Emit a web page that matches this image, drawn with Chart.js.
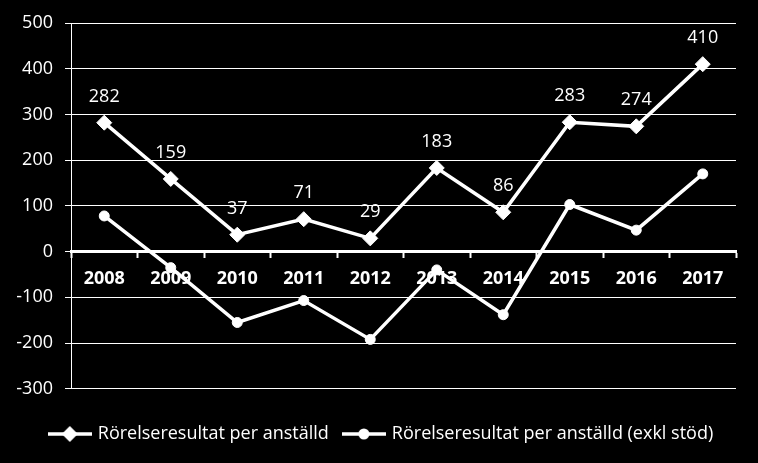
<!DOCTYPE html>
<html>
<head>
<meta charset="utf-8">
<script src="https://cdn.jsdelivr.net/npm/chart.js@4"></script>
<style>
html,body{margin:0;padding:0;background:#000;}
#wrap{width:758px;height:463px;}
</style>
</head>
<body>
<div id="wrap"><canvas id="c" width="758" height="463"></canvas></div>
<script>
const categories = ['2008','2009','2010','2011','2012','2013','2014','2015','2016','2017'];
const seriesNames = ['Rörelseresultat per anställd', 'Rörelseresultat per anställd (exkl stöd)'];
const resultat = [282, 159, 37, 71, 29, 183, 86, 283, 274, 410];
const resultatExklStod = [78, -35, -155, -107, -192, -40, -138, 103, 47, 170];
const yTicks = [500, 400, 300, 200, 100, 0, -100, -200, -300];

const FONT = "'Open Sans', sans-serif";

function legendImage(kind) {
  const cv = document.createElement('canvas');
  cv.width = 44; cv.height = 18;
  const g = cv.getContext('2d');
  g.strokeStyle = '#fff'; g.fillStyle = '#fff'; g.lineWidth = 3.5;
  g.beginPath(); g.moveTo(0, 9); g.lineTo(44, 9); g.stroke();
  g.beginPath();
  if (kind === 'diamond') {
    g.moveTo(22, 1); g.lineTo(30, 9); g.lineTo(22, 17); g.lineTo(14, 9); g.closePath();
  } else {
    g.arc(22, 9, 5.5, 0, Math.PI * 2);
  }
  g.fill();
  return cv;
}

const dataLabels = {
  id: 'dataLabels',
  afterDatasetsDraw(chart) {
    const ctx = chart.ctx;
    const meta = chart.getDatasetMeta(0);
    ctx.save();
    ctx.fillStyle = '#fff';
    ctx.font = '18px ' + FONT;
    ctx.textAlign = 'center';
    ctx.textBaseline = 'middle';
    meta.data.forEach((pt, i) => {
      ctx.fillText(String(resultat[i]), pt.x, pt.y - 26);
    });
    ctx.restore();
  }
};

const bg = {
  id: 'bg',
  beforeDraw(chart) {
    const ctx = chart.ctx;
    ctx.save(); ctx.fillStyle = '#000'; ctx.fillRect(0, 0, chart.width, chart.height); ctx.restore();
  }
};

new Chart(document.getElementById('c'), {
  type: 'line',
  data: {
    labels: categories,
    datasets: [
      {
        label: seriesNames[0],
        data: resultat,
        borderColor: '#fff',
        backgroundColor: '#fff',
        borderWidth: 3.5,
        pointStyle: 'rectRot',
        pointRadius: 7.5,
        pointBackgroundColor: '#fff',
        pointBorderColor: '#fff',
        pointBorderWidth: 1,
        tension: 0
      },
      {
        label: seriesNames[1],
        data: resultatExklStod,
        borderColor: '#fff',
        backgroundColor: '#fff',
        borderWidth: 3.5,
        pointStyle: 'circle',
        pointRadius: 5,
        pointBackgroundColor: '#fff',
        pointBorderColor: '#fff',
        pointBorderWidth: 1,
        tension: 0
      }
    ]
  },
  options: {
    responsive: false,
    animation: false,
    layout: { padding: { left: 6, right: 0, top: 23, bottom: 10 } },
    scales: {
      x: {
        position: { y: 0 },
        offset: true,
        grid: {
          display: true,
          drawOnChartArea: false,
          drawTicks: true,
          tickLength: 5,
          tickWidth: 2,
          tickColor: '#fff',
          offset: true
        },
        border: { display: true, color: '#fff', width: 3 },
        ticks: {
          color: '#fff',
          font: { family: FONT, size: 18, weight: 'bold' },
          padding: 11,
          maxRotation: 0,
          autoSkip: false
        }
      },
      y: {
        min: -300,
        max: 500,
        afterFit(scale) { scale.width = 65; },
        afterBuildTicks(scale) { scale.ticks = yTicks.map(v => ({ value: v })); },
        grid: {
          color: '#fff',
          lineWidth: 1,
          tickLength: 6,
          tickColor: '#fff'
        },
        border: { display: true, color: '#fff', width: 1 },
        ticks: {
          color: '#fff',
          font: { family: FONT, size: 18 },
          padding: 12,
          stepSize: 100
        }
      },
      yRight: {
        position: 'right',
        display: true,
        min: -300,
        max: 500,
        afterFit(scale) { scale.width = 22; },
        grid: { display: false, drawOnChartArea: false, drawTicks: false },
        border: { display: false },
        ticks: { display: false }
      }
    },
    plugins: {
      legend: {
        position: 'bottom',
        title: { display: true, text: '', font: { size: 1 }, padding: { top: 19, bottom: 0 } },
        labels: {
          color: '#fff',
          font: { family: FONT, size: 18 },
          usePointStyle: true,
          pointStyleWidth: 38,
          boxHeight: 18,
          padding: 16,
          generateLabels(chart) {
            return seriesNames.map((n, i) => ({
              text: n,
              fillStyle: '#fff',
              strokeStyle: '#fff',
              fontColor: '#fff',
              lineWidth: 0,
              pointStyle: legendImage(i === 0 ? 'diamond' : 'circle'),
              datasetIndex: i,
              hidden: false
            }));
          }
        }
      },
      tooltip: { enabled: false }
    }
  },
  plugins: [bg, dataLabels]
});
</script>
</body>
</html>
